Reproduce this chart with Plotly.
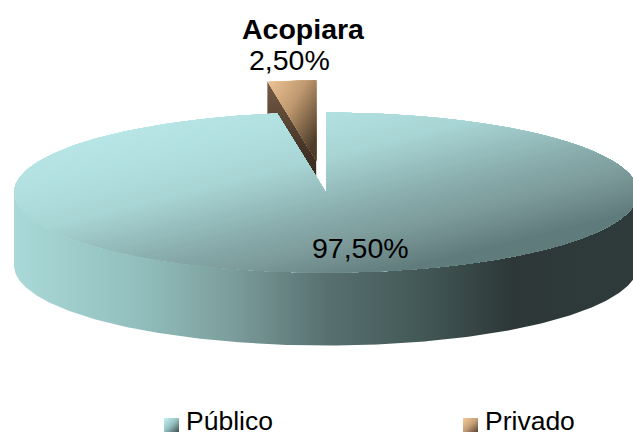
import numpy as np
import plotly.graph_objects as go

categories = ["Público", "Privado"]
values = [97.5, 2.5]
title_text = "Acopiara"
explode = [0.0, 0.4]

W, H = 633, 436
CX, CY, RX, RY, DEPTH = 326, 192.5, 312, 80, 73

PUB_TOP = [(0, "#bbe9e9"), (0.24, "#b2e0e0"), (0.43, "#a8d4d4"), (0.67, "#8aadad"),
           (0.81, "#7d9b9b"), (0.91, "#6e8a8a"), (1, "#5f7a7a")]
PUB_SWATCH = [(0, "#c4f4f4"), (0.5, "#96c0c0"), (1, "#3d5050")]
PRI_TOP = [(0, "#efc496"), (0.45, "#c09a70"), (1, "#4a3928")]
PRI_SWATCH = [(0, "#f6cc9c"), (0.5, "#c8a078"), (1, "#5a4632")]
WALL_SCALE = [(0, "#a9d9d8"), (0.2, "#92bfbd"), (0.35, "#7b9d9b"), (0.5, "#587071"),
              (0.65, "#435957"), (0.8, "#2d3737"), (1, "#2f3b3b")]


def hex2rgb(c):
    return np.array([int(c[i:i + 2], 16) for i in (1, 3, 5)], float)


def color_at(stops, t):
    ts = [s[0] for s in stops]
    arr = np.array([hex2rgb(s[1]) for s in stops])
    rgb = [np.interp(t, ts, arr[:, k]) for k in range(3)]
    return "rgb(%d,%d,%d)" % tuple(int(round(v)) for v in rgb)


def ell(frac, cx, cy):
    a = 2 * np.pi * np.asarray(frac)
    return cx + RX * np.sin(a), cy - RY * np.cos(a)


def sector(f0, f1, cx, cy):
    f = np.linspace(f0, f1, max(8, int((f1 - f0) * 360)))
    x, y = ell(f, cx, cy)
    return np.r_[cx, x, cx], np.r_[cy, y, cy]


def clip(x, y, d, t):
    ox, oy = [], []
    n = len(x)
    for i in range(n):
        j = (i + 1) % n
        a, b = d(x[i], y[i]) - t, d(x[j], y[j]) - t
        if a >= 0:
            ox.append(x[i]); oy.append(y[i])
        if (a >= 0) != (b >= 0):
            s = a / (a - b)
            ox.append(x[i] + s * (x[j] - x[i])); oy.append(y[i] + s * (y[j] - y[i]))
    return ox, oy


fig = go.Figure()


def poly(x, y, color=None, grad=None):
    kw = dict(fillgradient=grad) if grad else dict(fillcolor=color)
    fig.add_trace(go.Scatter(x=list(x), y=list(y), mode="lines", fill="toself",
                             line=dict(width=0), hoverinfo="skip", showlegend=False, **kw))


def shaded(x, y, d, stops, dmin, dmax, n):
    for k in range(n):
        t0 = dmin + (dmax - dmin) * k / n
        cx, cy = clip(x, y, d, t0) if k else (list(x), list(y))
        if len(cx) >= 3:
            poly(cx, cy, color=color_at(stops, (k + 0.5) / n))


total = sum(values)
f_pub = values[0] / total
mid = (f_pub + 1) / 2

# exploded private slice
ax = CX + explode[1] * RX * np.sin(2 * np.pi * mid)
ay = CY - explode[1] * RY * np.cos(2 * np.pi * mid)
ox, oy = ell(f_pub, ax, ay)
poly([ax, ox, ox, ax], [ay, oy, oy + DEPTH, ay + DEPTH],
     grad=dict(type="vertical", colorscale=[[0, "#2a2018"], [0.5, "#3f3023"], [1, "#755c46"]]))
px, py = sector(f_pub, 1.0, ax, ay)
shaded(px, py, lambda a, b: (a - ox) / 49 + (b - oy) / 80, PRI_TOP, 0, 1.75, 28)

# public slice wall
f = np.linspace(0.25, 0.75, 240)
wx, wy = ell(f, CX, CY)
poly(np.r_[wx, wx[::-1]], np.r_[wy + DEPTH, wy[::-1]],
     grad=dict(type="horizontal", colorscale=[[a, b] for a, b in WALL_SCALE]))

# public slice top
tx, ty = sector(0.0, f_pub, CX, CY)
d_top = lambda a, b: 0.25 * a + b
shaded(tx, ty, d_top, PUB_TOP, 140, 372, 70)

# legend swatches
for x0, st in ((164, PUB_SWATCH), (463, PRI_SWATCH)):
    sx, sy = [x0, x0 + 15, x0 + 15, x0], [418, 418, 432, 432]
    shaded(sx, sy, lambda a, b, x0=x0: (a - x0) / 15 + (b - 418) / 14, st, 0, 2, 14)


def fmt(v):
    return f"{v:.2f}".replace(".", ",") + "%"


FONT = "Liberation Sans, Arial, sans-serif"
notes = [
    (303, 29, f"<b>{title_text}</b>", 28.5, "center"),
    (289.5, 60, fmt(values[1]), 28.5, "center"),
    (360.5, 248, fmt(values[0]), 28.5, "center"),
    (184, 421, categories[0], 26.5, "left"),
    (483, 421, categories[1], 26.5, "left"),
]
for x, y, t, s, al in notes:
    fig.add_annotation(x=x, y=y, text=t, showarrow=False, xanchor=al, yanchor="middle",
                       font=dict(family=FONT, size=s, color="#000000"))

fig.update_layout(
    width=W, height=H, margin=dict(l=0, r=0, t=0, b=0),
    paper_bgcolor="white", plot_bgcolor="white", showlegend=False,
    xaxis=dict(range=[0, W], visible=False, fixedrange=True),
    yaxis=dict(range=[H, 0], visible=False, fixedrange=True),
)
fig.write_html("out.html", config={"displayModeBar": False},
               post_script="document.body.style.margin='0';")
